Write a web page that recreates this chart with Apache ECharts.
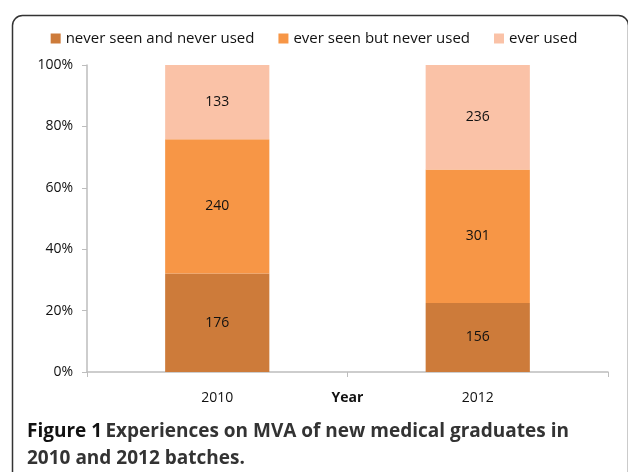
<!DOCTYPE html>
<html>
<head>
<meta charset="utf-8">
<script src="https://cdn.jsdelivr.net/npm/echarts@6/dist/echarts.min.js"></script>
<style>
  html, body { margin: 0; padding: 0; background: #fff; }
  #chart { width: 628px; height: 472px; }
</style>
</head>
<body>
<div id="chart"></div>
<script>
// counts
const years = ['2010', '2012'];
const neverSeen = [176, 156];
const seenNotUsed = [240, 301];
const everUsed = [133, 236];
const seriesNames = ['never seen and never used', 'ever seen but never used', 'ever used'];
const colors = ['#CD7B3A', '#F79646', '#FAC2A7'];
const yTicks = ['0%', '20%', '40%', '60%', '80%', '100%'];

const counts = [neverSeen, seenNotUsed, everUsed];
const totals = years.map((y, i) => counts.reduce((s, arr) => s + arr[i], 0));

let myChart = echarts.init(document.getElementById('chart'));

let option = {
    animation: false,
    textStyle: { fontFamily: 'Open Sans' },
    legend: {
        top: 26,
        left: 'center',
        itemWidth: 10,
        itemHeight: 10,
        itemGap: 24,
        icon: 'rect',
        textStyle: { fontSize: 15, color: '#111', padding: [0, 0, 0, 0] },
        data: seriesNames
    },
    grid: { left: 87, right: 20, top: 65, bottom: 100 },
    xAxis: {
        type: 'category',
        data: years,
        name: 'Year',
        nameLocation: 'middle',
        nameGap: 26,
        nameMoveOverlap: false,
        nameTextStyle: { fontWeight: 'bold', fontSize: 14, color: '#111', verticalAlign: 'middle' },
        axisLine: { lineStyle: { color: '#BDBDBD', width: 1.5 } },
        axisTick: { show: true, length: 5, lineStyle: { color: '#BDBDBD' } },
        axisLabel: { margin: 19, fontSize: 14, color: '#111' }
    },
    yAxis: {
        type: 'value',
        min: 0,
        max: 100,
        interval: 20,
        axisLine: { show: true, lineStyle: { color: '#BDBDBD', width: 1.5 } },
        axisTick: { show: true, length: 5, lineStyle: { color: '#BDBDBD' } },
        splitLine: { show: false },
        axisLabel: {
            margin: 14,
            fontSize: 14,
            color: '#111',
            formatter: v => yTicks[Math.round(v / 20)]
        }
    },
    series: seriesNames.map((name, k) => ({
        name: name,
        type: 'bar',
        stack: 'total',
        barWidth: '40%',
        itemStyle: { color: colors[k] },
        label: {
            show: true,
            position: 'inside',
            fontSize: 14,
            color: '#111',
            formatter: p => String(counts[k][p.dataIndex])
        },
        data: counts[k].map((c, i) => c / totals[i] * 100)
    })),
    graphic: [
        {
            type: 'rect',
            left: 10,
            top: 13,
            shape: { width: 616, height: 470, r: 10 },
            style: { fill: 'none', stroke: '#333', lineWidth: 1.5 },
            silent: true
        },
        {
            type: 'text',
            left: 27,
            top: 422,
            style: {
                text: '{a|Figure 1} {b|Experiences on MVA of new medical graduates in}\n{b|2010 and 2012 batches.}',
                rich: {
                    a: { fontFamily: 'Open Sans', fontWeight: 'bold', fontSize: 19, fill: '#111', lineHeight: 27 },
                    b: { fontFamily: 'Open Sans', fontWeight: 'bold', fontSize: 19, fill: '#333', lineHeight: 27 }
                }
            }
        }
    ]
};
myChart.setOption(option);
</script>
</body>
</html>
